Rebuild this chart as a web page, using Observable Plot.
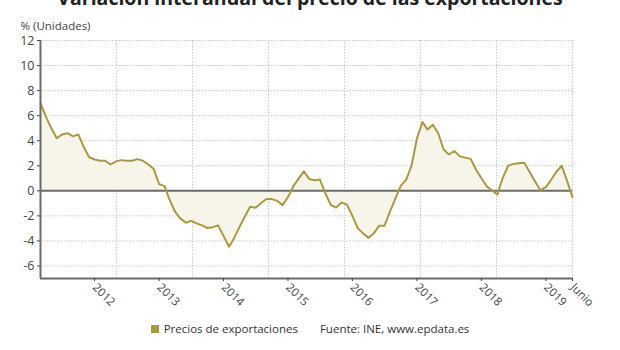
<!DOCTYPE html>
<html>
<head>
<meta charset="utf-8">
<script src="https://cdn.jsdelivr.net/npm/d3@7"></script>
<script src="https://cdn.jsdelivr.net/npm/@observablehq/plot@0.6"></script>
<style>
  html, body { margin: 0; padding: 0; background: #fff; }
  body { width: 620px; height: 350px; overflow: hidden; position: relative; font-family: "Open Sans", sans-serif; }
  #title { position: absolute; left: 0; width: 620px; top: -12px; text-align: center; font-weight: 700; font-size: 19.5px; line-height: 1; color: #222; white-space: nowrap; }
  #chart { position: absolute; left: 0; top: 0; }
  #legend { position: absolute; left: 0; width: 620px; top: 321px; font-size: 11.5px; color: #333; display: flex; justify-content: center; gap: 22px; }
  #legend .key { display: inline-block; width: 8px; height: 8px; background: #a99b3c; margin-right: 5px; vertical-align: 0px; }
</style>
</head>
<body>
<div id="title">Variación interanual del precio de las exportaciones</div>
<div id="chart"></div>
<div id="legend"><span><span class="key"></span>Precios de exportaciones</span><span>Fuente: INE, www.epdata.es</span></div>
<script>
// Monthly year-on-year change in export prices (%), March 2011 – June 2019
const startMonth = "2011-03";
const values = [
  7.0, 5.9, 5.0, 4.2, 4.5, 4.6, 4.35, 4.5, 3.5, 2.7,
  2.5, 2.4, 2.4, 2.1, 2.35, 2.45, 2.4, 2.4, 2.53, 2.4,
  2.1, 1.75, 0.53, 0.37, -0.7, -1.67, -2.2, -2.55, -2.4, -2.6,
  -2.76, -2.97, -2.9, -2.76, -3.6, -4.46, -3.8, -2.9, -2.07, -1.27,
  -1.35, -1.0, -0.66, -0.66, -0.8, -1.14, -0.5, 0.37, 0.95, 1.55,
  0.95, 0.85, 0.9, -0.2, -1.14, -1.33, -0.93, -1.1, -2.0, -3.0,
  -3.4, -3.74, -3.4, -2.78, -2.78, -1.67, -0.6, 0.4, 0.9, 2.0,
  4.2, 5.5, 4.9, 5.28, 4.6, 3.3, 2.9, 3.18, 2.75, 2.65,
  2.55, 1.7, 1.0, 0.35, 0.05, -0.3, 1.0, 2.0, 2.15, 2.2,
  2.25, 1.5, 0.75, 0.05, 0.3, 0.9, 1.5, 2.0, 0.8, -0.5
];
const yearTicks = ["2012", "2013", "2014", "2015", "2016", "2017", "2018", "2019"];
const endLabel = "Junio";
const yTicks = [-6, -4, -2, 0, 2, 4, 6, 8, 10, 12];

const seriesName = "Precios de exportaciones";
const lineColor = "#a99b3c";

const t0 = d3.utcParse("%Y-%m")(startMonth);
const data = values.map((v, i) => ({date: d3.utcMonth.offset(t0, i), value: v}));
const tEnd = data[data.length - 1].date;

const xTicks = [...yearTicks.map(y => new Date(Date.UTC(+y, 0, 1))), tEnd];
const fmt = d => (+d === +tEnd ? endLabel : String(d.getUTCFullYear()));
// vertical grid divides the plotting width in seven equal bands
const gridDates = d3.range(8).map(k => new Date(+t0 + k * (tEnd - t0) / 7));

const chart = Plot.plot({
  width: 620,
  height: 310,
  marginTop: 40,
  marginLeft: 40,
  marginRight: 48,
  marginBottom: 32,
  style: {fontFamily: "Open Sans, sans-serif", fontSize: "12px", color: "#444", background: "transparent"},
  x: {type: "utc", domain: [t0, tEnd]},
  y: {domain: [-7, 12]},
  marks: [
    Plot.gridY(yTicks.filter(d => d !== 0), {stroke: "#c8c8c8", strokeOpacity: 1, strokeDasharray: "1.5,1.5"}),
    Plot.gridX(gridDates, {stroke: "#c8c8c8", strokeOpacity: 1, strokeDasharray: "1.5,1.5"}),
    Plot.areaY(data, {x: "date", y1: 0, y2: "value", fill: "#f7f5ea", curve: "linear"}),
    Plot.ruleY([0], {stroke: "#6b6b6b", strokeWidth: 2}),
    Plot.lineY(data, {x: "date", y: "value", stroke: lineColor, strokeWidth: 2, title: () => seriesName}),
    Plot.axisY(yTicks, {tickSize: 3, tickPadding: 3, label: null, tickFormat: d => String(d), fill: "#444", fontSize: 12.5}),
    Plot.ruleX([t0], {stroke: "#6b6b6b", strokeWidth: 2}),
    Plot.ruleY([-7], {stroke: "#6b6b6b", strokeWidth: 2}),
    Plot.axisX(xTicks, {tickSize: 3, tickRotate: 45, tickFormat: fmt, label: null, tickPadding: 4, fill: "#444", fontSize: 11.5}),
    Plot.text(["% (Unidades)"], {frameAnchor: "top-left", dx: -20, dy: -19, textAnchor: "start", fill: "#444", fontSize: 11.5})
  ]
});
document.getElementById("chart").appendChild(chart);
</script>
</body>
</html>
